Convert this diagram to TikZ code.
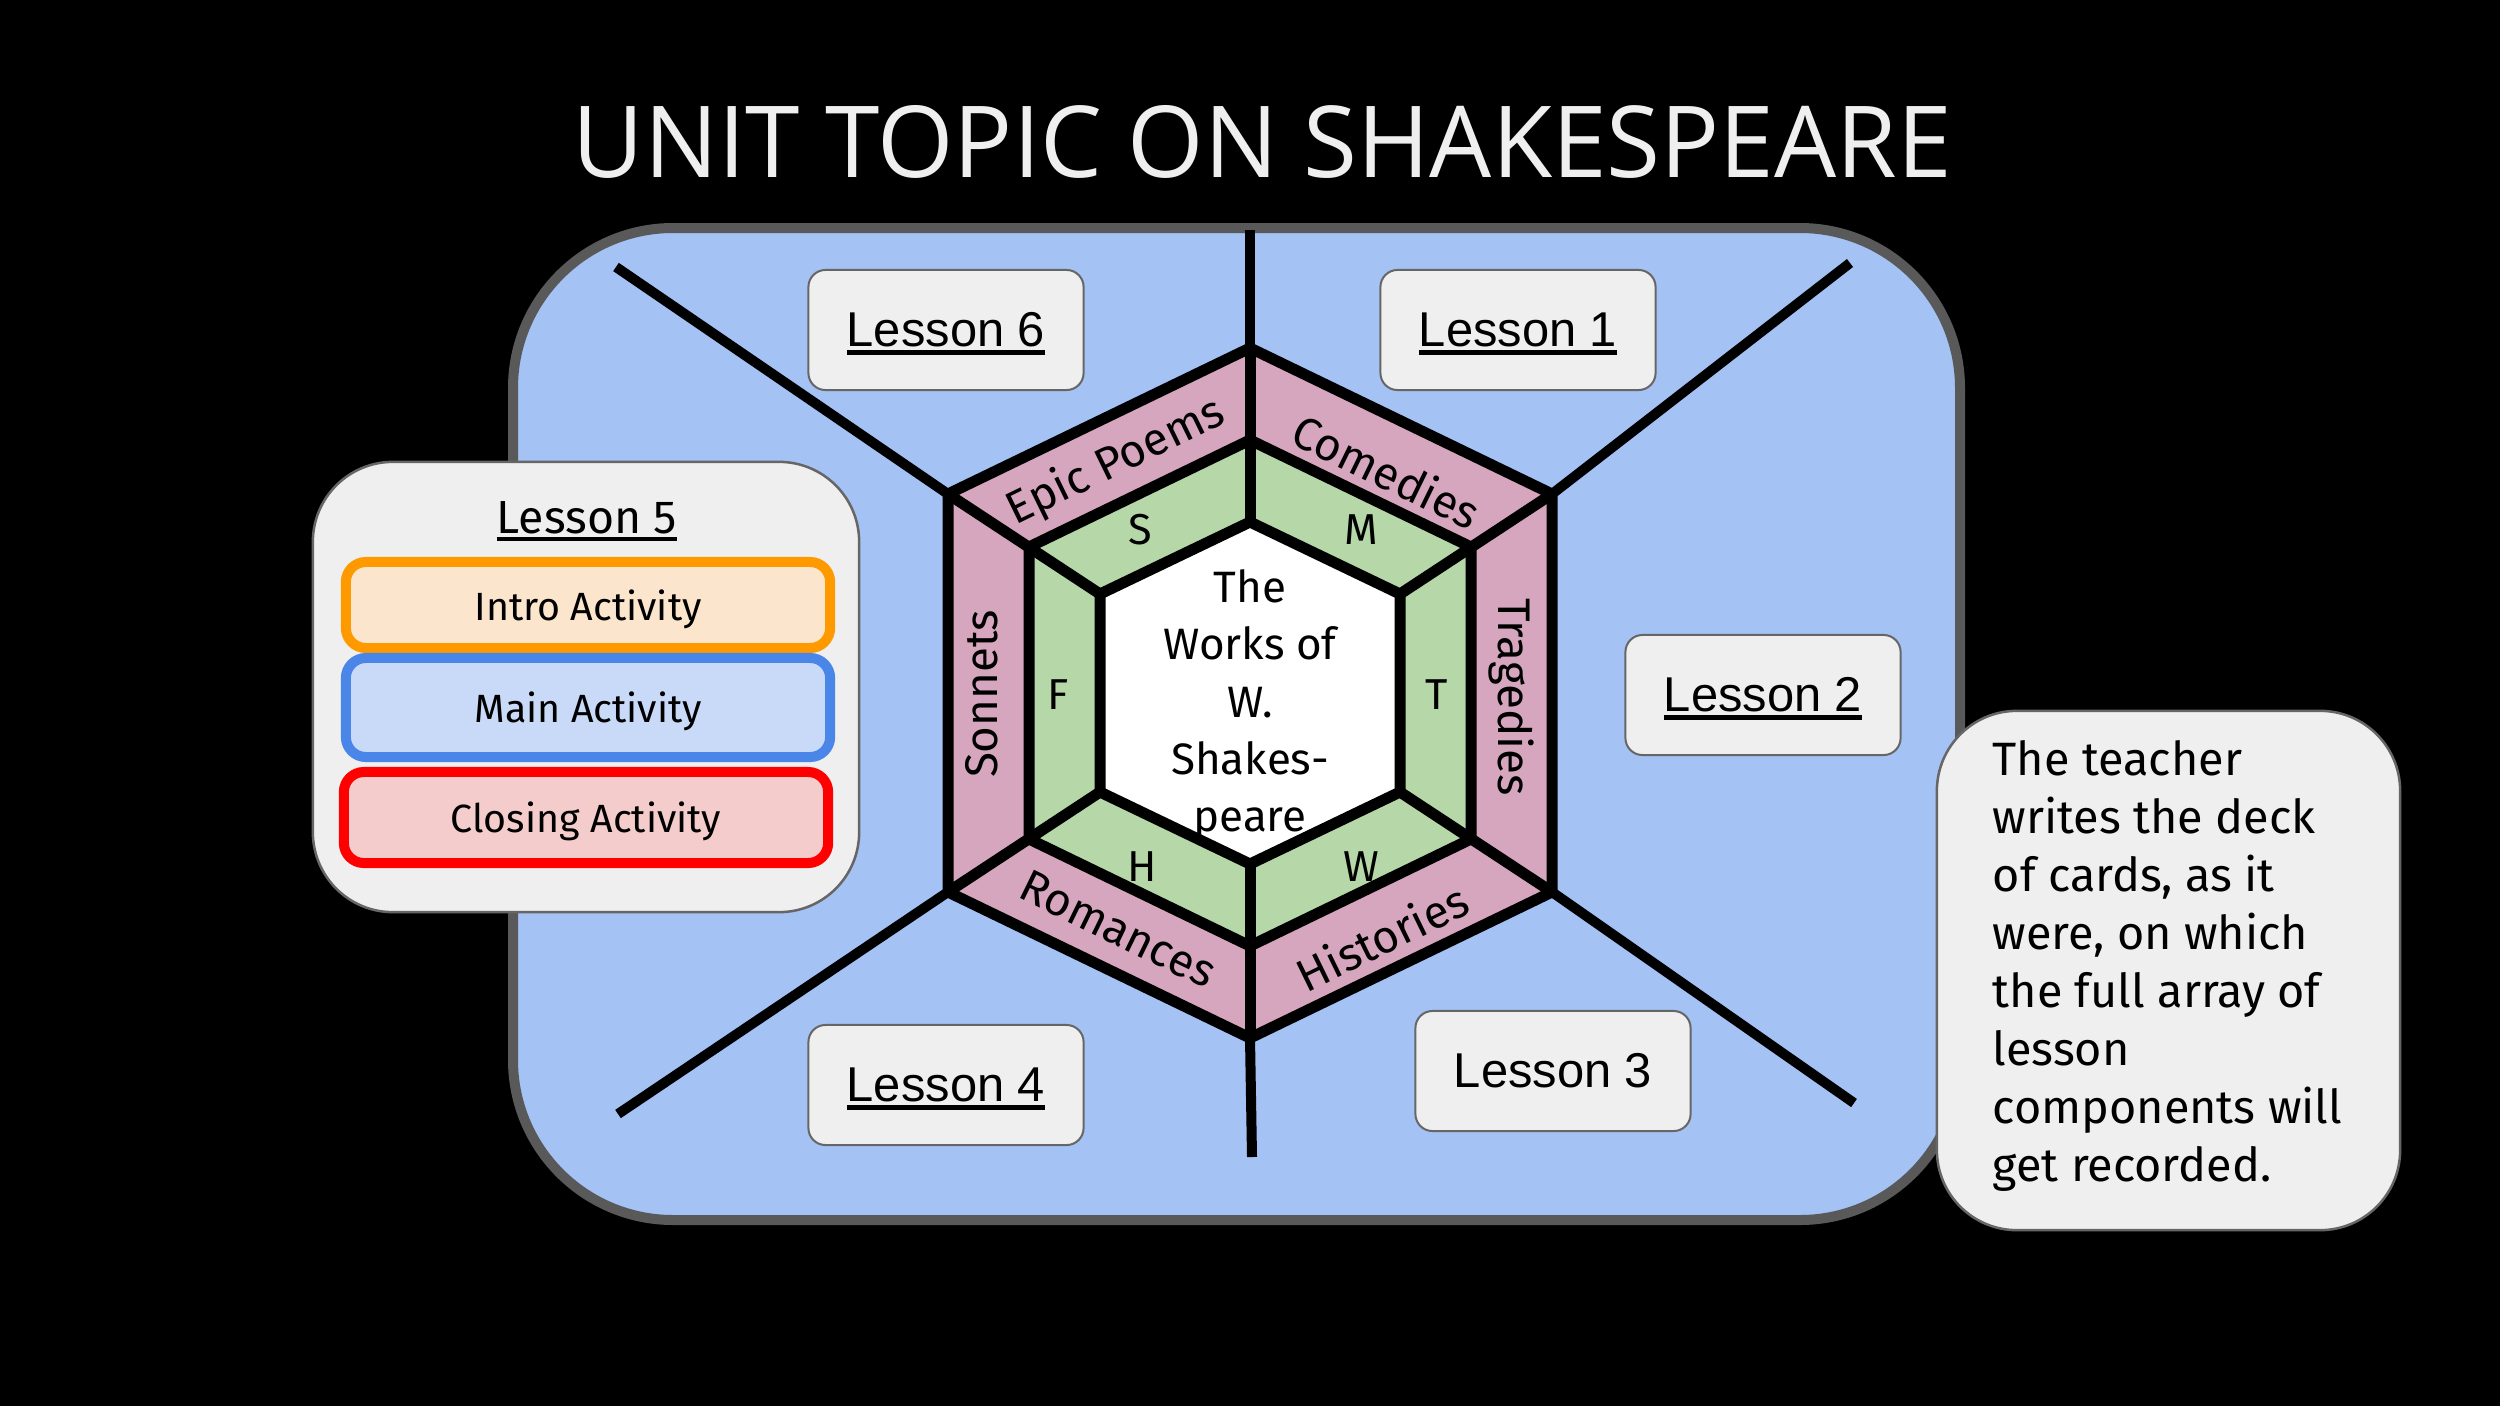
\documentclass[tikz,border=0pt]{standalone}
\usepackage{graphicx}
\usepackage{fontspec}
\setmainfont{Fira Sans}
\newfontfamily\arialf{Liberation Sans}
\newfontfamily\titlef{Open Sans}
\definecolor{boardblue}{HTML}{A4C2F4}
\definecolor{boardedge}{HTML}{595959}
\definecolor{pinkband}{HTML}{D5A6BD}
\definecolor{greenband}{HTML}{B6D7A8}
\definecolor{cardgray}{HTML}{EFEFEF}
\definecolor{boxgray}{HTML}{666666}
\definecolor{introfill}{HTML}{FCE5CD}
\definecolor{introedge}{HTML}{FF9900}
\definecolor{mainfill}{HTML}{C9DAF8}
\definecolor{mainedge}{HTML}{4A86E8}
\definecolor{closefill}{HTML}{F4CCCC}
\definecolor{closeedge}{HTML}{FF0000}
\definecolor{titlecol}{HTML}{EFEFEF}
\newsavebox{\myulbox}
\newcommand{\myul}[1]{\sbox{\myulbox}{#1}\smash{\rlap{\rule[-2.3pt]{\wd\myulbox}{1.3pt}}}\usebox{\myulbox}}
\begin{document}
\begin{tikzpicture}[x=0.01cm,y=-0.01cm,
  lessonbox/.style={draw=boxgray, line width=0.02cm, fill=cardgray, rounded corners=0.17cm,
    minimum width=2.75cm, minimum height=1.2cm, inner sep=0, font=\arialf\fontsize{13.9pt}{16pt}\selectfont},
  card/.style={draw=boxgray, line width=0.025cm, fill=cardgray, rounded corners=0.8cm, inner sep=0},
  act/.style={line width=0.1cm, rounded corners=0.2cm, minimum width=4.84cm, inner sep=0,
    text depth=0pt, font=\fontsize{11.2pt}{13pt}\selectfont},
  bandlbl/.style={font=\fontsize{13pt}{14pt}\selectfont, inner sep=0},
  letter/.style={font=\fontsize{12.3pt}{14pt}\selectfont, inner sep=0},
  hexline/.style={line width=0.11cm, draw=black},
  spoke/.style={line width=0.1cm, draw=black}]
\useasboundingbox (0,0) rectangle (2500,1406);
\fill[black] (0,0) rectangle (2500,1406);

% title
\node[anchor=base west, inner sep=0, text=titlecol] (title) at (572,177)
  {\resizebox{13.78cm}{0.72cm}{\titlef UNIT TOPIC ON SHAKESPEARE}};

% board
\draw[line width=0.1cm, draw=boardedge, fill=boardblue, rounded corners=1.6cm] (513,228) rectangle (1960,1220);

% hexagon coordinates
\coordinate (o1) at (1250,348);  \coordinate (o2) at (1552,494);
\coordinate (o3) at (1552,892);  \coordinate (o4) at (1250,1038);
\coordinate (o5) at (948,892);   \coordinate (o6) at (948,494);
\coordinate (m1) at (1250,440);  \coordinate (m2) at (1471,547);
\coordinate (m3) at (1471,839);  \coordinate (m4) at (1250,946);
\coordinate (m5) at (1029,839);  \coordinate (m6) at (1029,547);
\coordinate (i1) at (1250,522);  \coordinate (i2) at (1400,594);
\coordinate (i3) at (1400,792);  \coordinate (i4) at (1250,864);
\coordinate (i5) at (1100,792);  \coordinate (i6) at (1100,594);
% spoke ends
\coordinate (e1) at (1250,230);  \coordinate (e2) at (1850,263);
\coordinate (e3) at (1854,1103); \coordinate (e4) at (1252,1157);
\coordinate (e5) at (618,1114);  \coordinate (e6) at (616,267);

\fill[pinkband] (o1)--(o2)--(o3)--(o4)--(o5)--(o6)--cycle;
\fill[greenband] (m1)--(m2)--(m3)--(m4)--(m5)--(m6)--cycle;
\fill[white] (i1)--(i2)--(i3)--(i4)--(i5)--(i6)--cycle;

% centre text
\node[anchor=north, align=center, inner sep=0, font=\fontsize{12.5pt}{16.3pt}\selectfont] (works) at (1250,569)
  {The\\Works of\\W.\\Shakes-\\peare};

% hexagon lines
\draw[hexline] (o1)--(o2)--(o3)--(o4)--(o5)--(o6)--cycle;
\draw[hexline] (m1)--(m2)--(m3)--(m4)--(m5)--(m6)--cycle;
\draw[hexline] (i1)--(i2)--(i3)--(i4)--(i5)--(i6)--cycle;
\foreach \k in {1,...,6} {\draw[hexline] (i\k)--(o\k);}
\foreach \k in {1,...,6} {\draw[spoke] (o\k)--(e\k);}

% band labels
\node[bandlbl, rotate=26]  (epic)  at (1116,462) {Epic Poems};
\node[bandlbl, rotate=-26] (com)   at (1387,471) {Comedies};
\node[bandlbl, rotate=-90] (trag)  at (1511,697) {Tragedies};
\node[bandlbl, rotate=26]  (hist)  at (1382,937) {Histories};
\node[bandlbl, rotate=-26] (rom)   at (1118,929) {Romances};
\node[bandlbl, rotate=90]  (son)   at (982,694)  {Sonnets};

% green letters
\node[letter] (ls) at (1140,530) {S};
\node[letter] (lm) at (1361,530) {M};
\node[letter] (lt) at (1437,695) {T};
\node[letter] (lw) at (1361,867) {W};
\node[letter] (lh) at (1142,867) {H};
\node[letter] (lf) at (1058,695) {F};

% lesson boxes
\node[lessonbox] (l6) at (946,330)  {\myul{Lesson 6}};
\node[lessonbox] (l1) at (1518,330) {\myul{Lesson 1}};
\node[lessonbox] (l2) at (1763,695) {\myul{Lesson 2}};
\node[lessonbox] (l3) at (1553,1071) {Lesson 3};
\node[lessonbox] (l4) at (946,1085) {\myul{Lesson 4}};

% lesson 5 card
\node[card, minimum width=5.46cm, minimum height=4.5cm] (l5) at (586,687) {};
\node[anchor=base, inner sep=0, font=\fontsize{13.2pt}{15pt}\selectfont] (l5t) at (587,533) {\myul{Lesson 5}};
\node[act, draw=introedge, fill=introfill, minimum height=0.86cm] (intro) at (588,605) {Intro Activity};
\node[act, draw=mainedge, fill=mainfill, minimum height=0.99cm] (main) at (588,707.5) {Main Activity};
\node[act, draw=closeedge, fill=closefill, minimum height=0.91cm] (close) at (586,817.5) {Closing Activity};

% note card
\node[card, minimum width=4.63cm, minimum height=5.19cm] (note) at (2168.5,970.5) {};
\node[anchor=north west, align=left, inner sep=0, font=\fontsize{13.3pt}{16.5pt}\selectfont] (notet) at (1992,740)
  {The teacher\\writes the deck\\of cards, as it\\were, on which\\the full array of\\lesson\\components will\\get recorded.};
\end{tikzpicture}
\end{document}
